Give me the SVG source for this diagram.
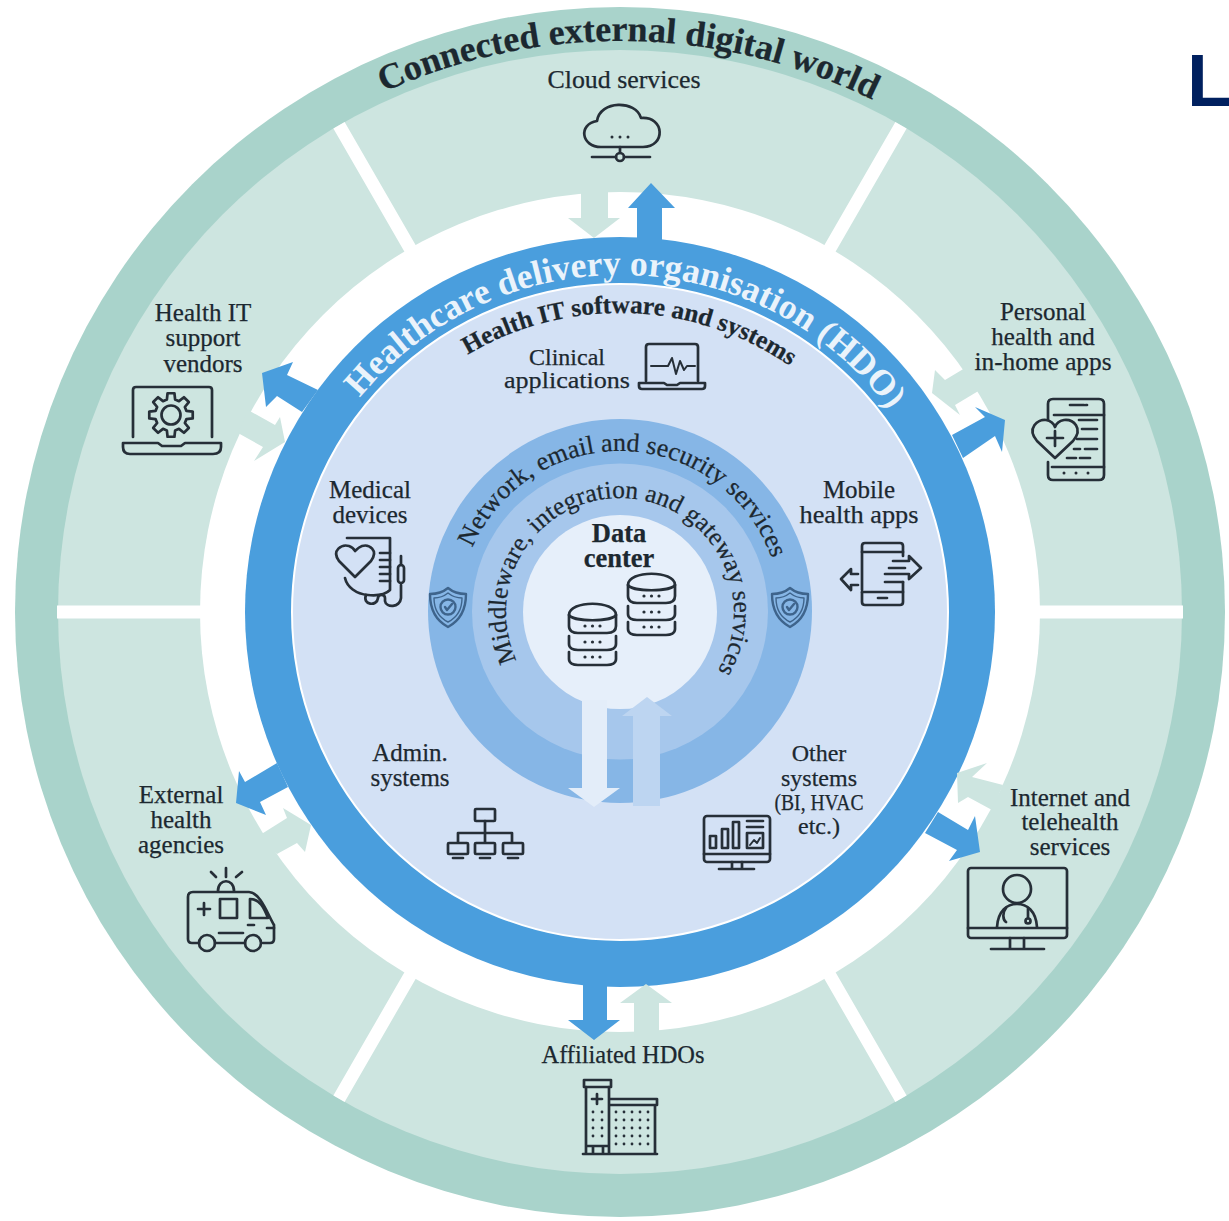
<svg xmlns="http://www.w3.org/2000/svg" xmlns:xlink="http://www.w3.org/1999/xlink" width="1229" height="1221" viewBox="0 0 1229 1221">
<style>
text{font-family:"Liberation Serif",serif;fill:#1c2830;font-size:25px;text-anchor:middle;stroke:#1c2830;stroke-width:.25px}
.b{font-weight:bold}
.t{font-size:24px}
.ic{fill:none;stroke:#262f38;stroke-width:2.7;stroke-linecap:round;stroke-linejoin:round}
.f{fill:#262f38;stroke:none}
.gap{stroke:#fff;stroke-width:13;fill:none}
.blue{fill:#4a9edd}
.pale{fill:#cde5e0}
</style>
<defs>
<path id="c571" d="M620,1183A571,571 0 1 1 620,41A571,571 0 1 1 620,1183"/>
<path id="c337" d="M620,949A337,337 0 1 1 620,275A337,337 0 1 1 620,949"/>
<path id="c299" d="M620,911A299,299 0 1 1 620,313A299,299 0 1 1 620,911"/>
<path id="c161" d="M620,773A161,161 0 1 1 620,451A161,161 0 1 1 620,773"/>
<path id="c114" d="M620,726A114,114 0 1 1 620,498A114,114 0 1 1 620,726"/>
<g id="stack">
<path class="ic" d="M2,12C2,-3 49,-3 49,12V23C49,28 45,30 40,30H11C6,30 2,28 2,23Z"/>
<path class="ic" d="M2,12C6,19 45,19 49,12"/>
<path class="ic" d="M2,33V41C2,45 6,47 11,47H40C45,47 49,45 49,41V33"/>
<path class="ic" d="M2,49V56C2,60 6,62 11,62H40C45,62 49,60 49,56V49"/>
<g class="f"><circle cx="18" cy="23" r="1.6"/><circle cx="25.500" cy="23" r="1.6"/><circle cx="33" cy="23" r="1.6"/><circle cx="18" cy="39" r="1.6"/><circle cx="25.500" cy="39" r="1.6"/><circle cx="33" cy="39" r="1.6"/><circle cx="18" cy="54" r="1.6"/><circle cx="25.500" cy="54" r="1.6"/><circle cx="33" cy="54" r="1.6"/></g>
</g>
<g id="shield" fill="none" stroke="#3e648c" stroke-width="2.4" stroke-linejoin="round" stroke-linecap="round">
<path d="M0,-19C6,-14 12,-13 18,-13C18,2 13,13 0,20C-13,13 -18,2 -18,-13C-12,-13 -6,-14 0,-19Z"/>
<path d="M0,-14C5,-10 9,-9 14,-9C14,2 10,10 0,15C-10,10 -14,2 -14,-9C-9,-9 -5,-10 0,-14Z" stroke-width="1.4"/>
<circle cx="0" cy="0" r="7.500"/><path d="M-3,0L-1,3L4,-3"/>
</g>
</defs>

<rect width="1229" height="1221" fill="#fff"/>
<g id="rings">
<circle cx="620" cy="612" r="605" fill="#a9d3cb"/>
<circle cx="620" cy="612" r="562" fill="#cde5e0"/>
<path class="gap" d="M57,612H205M1035,612H1183M415,257L339,125.300M825,257L901,125.300M415,967L339,1098.700M825,967L901,1098.700"/>
<circle cx="620" cy="612" r="420" fill="#fff"/>
<circle cx="620" cy="612" r="375" fill="#4a9edd"/>
<circle cx="620" cy="612" r="328" fill="#d3e1f5" stroke="#fff" stroke-width="2"/>
<circle cx="620" cy="611" r="192" fill="#86b6e6"/>
<circle cx="620" cy="611.500" r="148" fill="#a6c7ec"/>
<circle cx="620" cy="612" r="97" fill="#e6effa"/>
</g>

<g id="connectors">
<polygon class="pale" points="581,185 608,185 608,218 620,218 594,238 568,218 581,218"/>
<polygon class="blue" points="637,240 637,208 628,208 651,183 675,208 662,208 662,240"/>
<polygon class="blue" points="318,390 302,412 277,396 266,407 262,373 293,362 287,375"/>
<polygon class="pale" points="248,410 275,425 280,417 285,442 254,461 263,447 238,433"/>
<polygon class="blue" points="952,435 985,417 975,407 1005,420 1002,452 995,436 963,458"/>
<polygon class="pale" points="965,368 980,390 955,405 960,415 932,393 935,370 945,380"/>
<polygon class="blue" points="277,763 245,782 239,771 236,803 266,815 260,802 288,787"/>
<polygon class="pale" points="260,835 287,818 283,808 311,825 305,852 297,843 277,854"/>
<polygon class="blue" points="938,812 968,830 975,816 980,852 949,861 957,850 925,833"/>
<polygon class="pale" points="1003,785 972,777 987,763 957,773 958,803 968,797 992,810"/>
<polygon class="blue" points="583,985 607,985 607,1020 620,1020 594,1040 568,1020 583,1020"/>
<polygon class="pale" points="634,1036 659,1036 659,1003 672,1003 646,984 620,1003 634,1003"/>
<polygon points="582,700 607,700 607,788 620,788 594,807 568,788 582,788" fill="#e3edf9"/>
<polygon points="633,806 660,806 660,716 672,716 647,697 622,716 633,716" fill="#bdd5f1"/>
</g>

<g id="ring-labels">
<text class="b" style="font-size:36px" transform="rotate(0.900 620 612)"><textPath href="#c571" startOffset="50%">Connected external digital world</textPath></text>
<text class="b" style="font-size:35.500px;fill:#eaf3fb;stroke:none" transform="rotate(1.300 620 612)"><textPath href="#c337" startOffset="50%">Healthcare delivery organisation (HDO)</textPath></text>
<text class="b" style="font-size:25.300px" transform="rotate(2 620 612)"><textPath href="#c299" startOffset="50%">Health IT software and systems</textPath></text>
<text style="font-size:26px" transform="rotate(2 620 612)"><textPath href="#c161" startOffset="50%">Network, email and security services</textPath></text>
<text style="font-size:25.500px" transform="rotate(3 620 612)"><textPath href="#c114" startOffset="50%">Middleware, integration and gateway services</textPath></text>
</g>

<g id="node-cloud">
<text x="624" y="88" textLength="153" lengthAdjust="spacingAndGlyphs">Cloud services</text>
<path class="ic" d="M601,147C581,147 578,124 597,121C600,100 636,100 641,118C665,116 666,147 643,147Z"/>
<path class="ic" d="M620,147V153M592,157H616M624,157H650"/><circle class="ic" cx="620" cy="157" r="4"/>
<g class="f"><circle cx="612" cy="137" r="1.500"/><circle cx="620" cy="137" r="1.500"/><circle cx="628" cy="137" r="1.500"/></g>
</g>

<g id="node-clinical">
<text class="t" x="567" y="365">Clinical</text><text class="t" x="567" y="388" textLength="126" lengthAdjust="spacingAndGlyphs">applications</text>
<path class="ic" d="M646,381V347Q646,344 649,344H695Q698,344 698,347V381"/>
<path class="ic" d="M639,383H664L667,385H677L680,383H705V386Q705,389 702,389H642Q639,389 639,386Z"/>
<path class="ic" style="stroke-width:2" d="M651,366H668L672,358L676,374L680,361L684,370L687,366H695"/>
</g>

<g id="node-vendors">
<text x="203" y="321">Health IT</text><text x="203" y="346">support</text><text x="203" y="372">vendors</text>
<path class="ic" d="M133,437V390Q133,387 136,387H209Q212,387 212,390V437"/>
<path class="ic" d="M123,443H158L162,446H181L185,443H221V447Q221,454 213,454H130Q123,454 123,447Z"/>
<polygon class="ic" transform="translate(171 415)" points="15.450,-4.140 21.730,-3.440 21.730,3.440 15.450,4.140 13.850,8 17.800,12.930 12.930,17.800 8,13.850 4.140,15.450 3.440,21.730 -3.440,21.730 -4.140,15.450 -8,13.850 -12.930,17.800 -17.800,12.930 -13.850,8 -15.450,4.140 -21.730,3.440 -21.730,-3.440 -15.450,-4.140 -13.850,-8 -17.800,-12.930 -12.930,-17.800 -8,-13.850 -4.140,-15.450 -3.440,-21.730 3.440,-21.730 4.140,-15.450 8,-13.850 12.930,-17.800 17.800,-12.930 13.850,-8"/>
<circle class="ic" cx="171" cy="415" r="9.500"/>
</g>

<g id="node-personal">
<text x="1043" y="320">Personal</text><text x="1043" y="345">health and</text><text x="1043" y="370" textLength="137" lengthAdjust="spacingAndGlyphs">in-home apps</text>
<path class="ic" d="M1048,424V404Q1048,399 1053,399H1099Q1104,399 1104,404V475Q1104,480 1099,480H1053Q1048,480 1048,475V462"/>
<path class="ic" d="M1054,415H1104M1052,467H1104M1070,405H1084M1086,405H1087"/>
<path class="ic" style="fill:#cde5e0" d="M1055,458L1037,441C1026,428 1038,419 1046,420C1051,421 1054,424 1055,427C1056,424 1059,421 1064,420C1073,419 1084,428 1073,441Z"/>
<path class="ic" d="M1055,431V446M1047,438H1063M1079,420H1097M1082,429H1097M1077,439H1097M1074,449H1080M1085,449H1097M1067,458H1076M1080,458H1090"/>
<g class="f"><circle cx="1064" cy="473" r="1.500"/><circle cx="1076" cy="473" r="1.500"/><circle cx="1088" cy="473" r="1.500"/></g>
</g>

<g id="node-medical">
<text x="370" y="498">Medical</text><text x="370" y="523">devices</text>
<path class="ic" d="M347,538H390V590C386,594 378,596 368,595C356,594 347,587 345,578"/>
<path class="ic" style="fill:#d3e1f5" d="M355,577L339,561C331,550 342,544 349,546C352,547 354,549 355,551C357,549 359,547 362,546C369,544 379,550 371,561Z"/>
<path class="ic" d="M380,553H390M380,560H390M380,567H390M380,574H390M380,581H390"/>
<path class="ic" d="M366,595C362,605 377,607 378,598C378,594 385,594 385,598V601C386,608 400,608 401,598V585M401,565V556"/>
<rect class="ic" x="398" y="565" width="6" height="18" rx="3"/>
</g>

<g id="node-mobile">
<text x="859" y="498">Mobile</text><text x="859" y="523" textLength="119" lengthAdjust="spacingAndGlyphs">health apps</text>
<path class="ic" d="M862,552V546Q862,543 865,543H900Q903,543 903,546V556M903,582V602Q903,605 900,605H865Q862,605 862,602V592"/>
<path class="ic" d="M862,552V590M862,552H903M862,592H903M878,598H887"/>
<path class="ic" d="M893,561H909V556L921,568L909,579V574H885M889,568H905M885,582H903" style="fill:none"/>
<path class="ic" d="M858,574H851V569L841,579L851,590V585H858"/>
</g>

<g id="node-security">
<use href="#shield" x="448" y="607"/>
<use href="#shield" x="790" y="607"/>
</g>

<g id="node-datacenter">
<text class="b" x="619" y="542" style="font-size:26.500px">Data</text><text class="b" x="619" y="567" style="font-size:26.500px">center</text>
<use href="#stack" x="567" y="603"/>
<use href="#stack" x="626" y="573"/>
</g>

<g id="node-admin">
<text x="410" y="761">Admin.</text><text x="410" y="786">systems</text>
<rect class="ic" x="475" y="809" width="20" height="12" rx="1"/>
<path class="ic" d="M485,821V842M458,842V833H512V842"/>
<rect class="ic" x="448" y="843" width="20" height="11" rx="1"/>
<rect class="ic" x="475" y="843" width="20" height="11" rx="1"/>
<rect class="ic" x="503" y="843" width="20" height="11" rx="1"/>
<path class="ic" d="M453,858H463M480,858H490M508,858H518"/>
</g>

<g id="node-other">
<text class="t" x="819" y="761">Other</text><text class="t" x="819" y="786">systems</text><text class="t" x="819" y="810" textLength="89" lengthAdjust="spacingAndGlyphs">(BI, HVAC</text><text class="t" x="819" y="834">etc.)</text>
<rect class="ic" x="704" y="816" width="66" height="46" rx="3"/>
<path class="ic" d="M704,854H770M732,862V868M742,862V868M719,869H754"/>
<path class="ic" d="M710,836V848H716V836ZM722,829V848H728V829ZM733,822V848H739V822ZM747,821H763M747,827H763"/>
<rect class="ic" x="747" y="833" width="16" height="15"/>
<path class="ic" style="stroke-width:2" d="M750,845L754,840L757,843L760,838"/>
</g>

<g id="node-external">
<text x="181" y="803">External</text><text x="181" y="828">health</text><text x="181" y="853">agencies</text>
<path class="ic" d="M199,943H192Q188,943 188,939V897Q188,892 193,892H249C260,892 268,915 274,925V939Q274,943 270,943H263M215,943H245"/>
<path class="ic" d="M218,891C218,878 234,878 234,891M226,868V877M211,872L216,877M242,872L236,877"/>
<path class="ic" d="M198,909H210M204,903V915"/>
<rect class="ic" x="220" y="899" width="17" height="19"/>
<path class="ic" d="M250,899V918H268C264,908 260,899 250,899ZM219,933H243M248,925H254M267,928H274"/>
<circle class="ic" cx="207" cy="943" r="8"/><circle class="ic" cx="253" cy="943" r="8"/>
</g>

<g id="node-internet">
<text x="1070" y="806">Internet and</text><text x="1070" y="830">telehealth</text><text x="1070" y="855">services</text>
<rect class="ic" x="968" y="868" width="99" height="70" rx="3"/>
<path class="ic" d="M968,928H1067M1010,938V948M1024,938V948M991,949H1044"/>
<circle class="ic" cx="1017" cy="889" r="14"/>
<path class="ic" d="M997,927C998,911 1007,904 1017,904C1027,904 1036,911 1037,927"/>
<path class="ic" d="M1006,908C1002,913 1003,920 1006,922M1028,908V918"/><circle class="ic" cx="1028" cy="921" r="2.500"/>
</g>

<g id="node-affiliated">
<text x="623" y="1063" textLength="163" lengthAdjust="spacingAndGlyphs">Affiliated HDOs</text>
<rect class="ic" x="584" y="1080" width="27" height="7"/>
<path class="ic" d="M586,1087V1153M609,1087V1153M583,1154H657M609,1099H657V1105H609M655,1105V1153M593,1154V1146H603V1154M586,1146H609"/>
<path class="ic" d="M597,1094V1104M592,1099H602"/>
<g class="f">
<circle cx="593" cy="1112" r="1.400"/><circle cx="602" cy="1112" r="1.400"/><circle cx="593" cy="1120" r="1.400"/><circle cx="602" cy="1120" r="1.400"/><circle cx="593" cy="1128" r="1.400"/><circle cx="602" cy="1128" r="1.400"/><circle cx="593" cy="1136" r="1.400"/><circle cx="602" cy="1136" r="1.400"/>
<circle cx="616" cy="1112" r="1.400"/><circle cx="624" cy="1112" r="1.400"/><circle cx="632" cy="1112" r="1.400"/><circle cx="640" cy="1112" r="1.400"/><circle cx="648" cy="1112" r="1.400"/>
<circle cx="616" cy="1120" r="1.400"/><circle cx="624" cy="1120" r="1.400"/><circle cx="632" cy="1120" r="1.400"/><circle cx="640" cy="1120" r="1.400"/><circle cx="648" cy="1120" r="1.400"/>
<circle cx="616" cy="1128" r="1.400"/><circle cx="624" cy="1128" r="1.400"/><circle cx="632" cy="1128" r="1.400"/><circle cx="640" cy="1128" r="1.400"/><circle cx="648" cy="1128" r="1.400"/>
<circle cx="616" cy="1136" r="1.400"/><circle cx="624" cy="1136" r="1.400"/><circle cx="632" cy="1136" r="1.400"/><circle cx="640" cy="1136" r="1.400"/><circle cx="648" cy="1136" r="1.400"/>
<circle cx="616" cy="1144" r="1.400"/><circle cx="624" cy="1144" r="1.400"/><circle cx="632" cy="1144" r="1.400"/><circle cx="640" cy="1144" r="1.400"/><circle cx="648" cy="1144" r="1.400"/>
</g>
</g>

<text x="1187" y="106" style="font-family:'Liberation Sans',sans-serif;font-weight:bold;font-size:75px;fill:#00205f;stroke:none;text-anchor:start">L</text>
</svg>
